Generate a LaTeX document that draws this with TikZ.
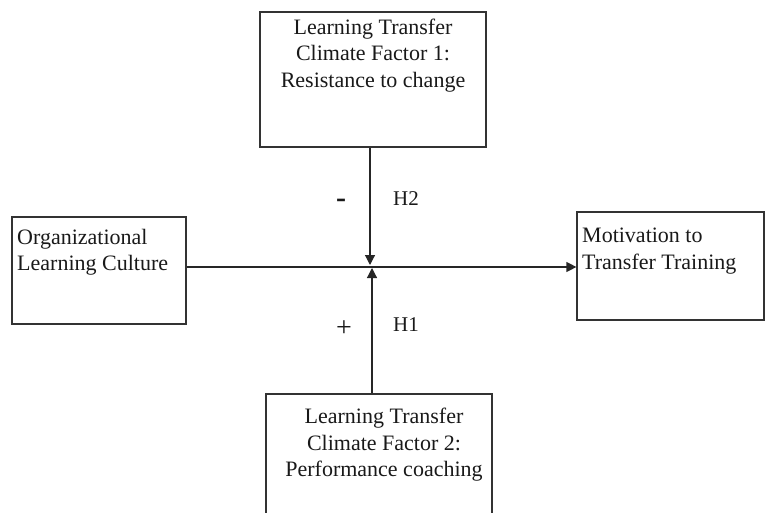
\documentclass[tikz,border=0pt]{standalone}
\usepackage{fontspec}
\setmainfont{Liberation Serif}
\usetikzlibrary{arrows.meta}
\tikzset{
  x=1pt, y=-1pt,
  box/.style={draw=black!80, line width=1.2pt, rectangle, inner sep=0pt, fill=none},
  txt/.style={inner sep=0pt, text=black!90, font=\fontsize{22}{26.5}\selectfont},
  conn/.style={draw=black!85, line width=1.2pt, -{Triangle[length=10pt,width=10pt]}},
  lab/.style={inner sep=0pt, text=black!90, font=\fontsize{21}{25}\selectfont}
}
\begin{document}
\begin{tikzpicture}
\useasboundingbox (0,0) rectangle (768,513);
\clip (0,0) rectangle (768,513);
% boxes
\node[box, minimum width=226pt, minimum height=135pt] (top) at (373,79.5) {};
\node[box, minimum width=174pt, minimum height=107pt] (left) at (99,270.5) {};
\node[box, minimum width=187pt, minimum height=108pt] (right) at (670.5,266) {};
\node[box, minimum width=226pt, minimum height=140pt] (bot) at (379,464) {};
% texts
\node[txt, anchor=north, align=center] (ttop) at (373,18.5) {Learning Transfer\\Climate Factor 1:\\Resistance to change};
\node[txt, anchor=north west, align=left] (tleft) at (17,229) {Organizational\\Learning Culture};
\node[txt, anchor=north west, align=left] (tright) at (582,228) {Motivation to\\Transfer Training};
\node[txt, anchor=north, align=center] (tbot) at (384,408) {Learning Transfer\\Climate Factor 2:\\Performance coaching};
% junction points
\coordinate (jt) at (370,265);
\coordinate (jb) at (372,268);
\coordinate (jh) at (370,267);
% connectors
\draw[conn] (left.east |- jh) -- (right.west |- jh);
\draw[conn] (top.south -| jt) -- (jt);
\draw[conn] (bot.north -| jb) -- (jb);
% labels
\node[lab, font=\fontsize{30}{30}\bfseries] (minus) at (341,203) {-};
\node[lab, anchor=base west] (h2) at (393,206) {H2};
\node[lab, font=\fontsize{28}{30}\selectfont] (plus) at (344,329) {+};
\node[lab, anchor=base west] (h1) at (393,331) {H1};
\end{tikzpicture}
\end{document}
